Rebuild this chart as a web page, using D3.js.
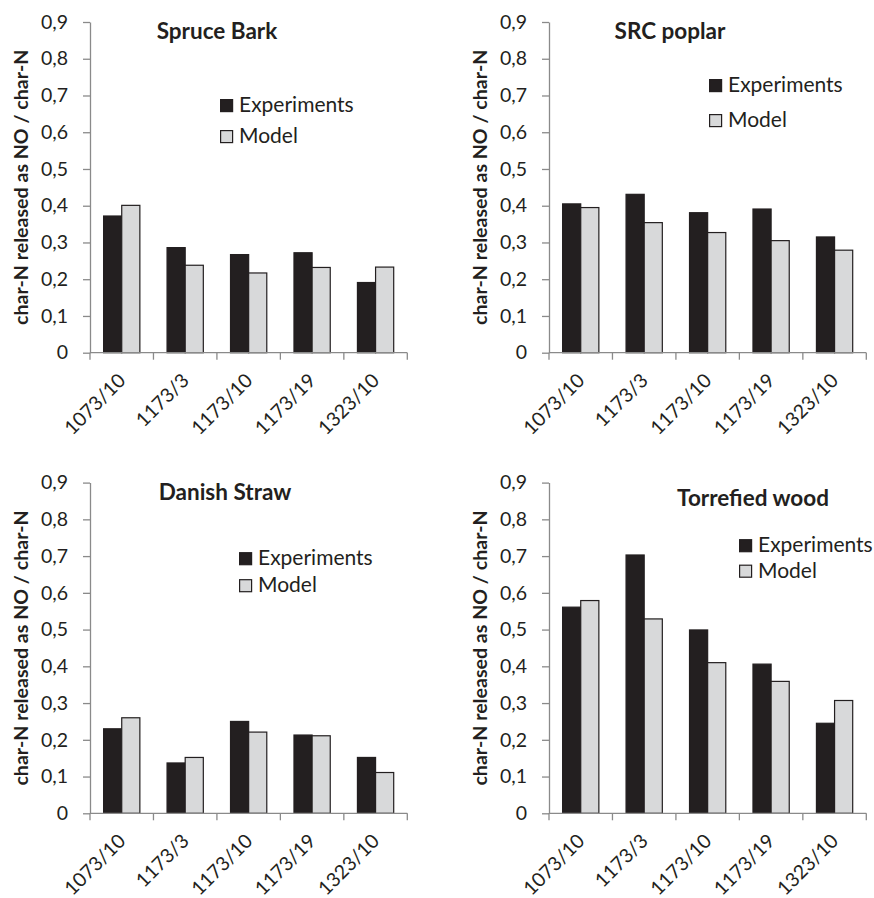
<!DOCTYPE html>
<html>
<head>
<meta charset="utf-8">
<script src="https://cdn.jsdelivr.net/npm/d3@7"></script>
<style>
  html, body { margin: 0; padding: 0; background: #fff; }
  svg { display: block; }
  text { font-family: Lato, "Open Sans", sans-serif; fill: #231f20; }
</style>
</head>
<body>
<svg id="chart" width="874" height="898"></svg>
<script>
// Temperature (K) / O2 (%) conditions
const categories = ["1073/10", "1173/3", "1173/10", "1173/19", "1323/10"];
const seriesNames = ["Experiments", "Model"];
const yTicks = [0, 0.1, 0.2, 0.3, 0.4, 0.5, 0.6, 0.7, 0.8, 0.9];

// Fraction of char-N released as NO, per fuel
const spruceExp   = [0.372, 0.286, 0.267, 0.272, 0.191];
const spruceModel = [0.401, 0.238, 0.217, 0.232, 0.233];
const poplarExp   = [0.405, 0.431, 0.381, 0.391, 0.315];
const poplarModel = [0.395, 0.354, 0.327, 0.305, 0.279];
const strawExp    = [0.230, 0.137, 0.250, 0.213, 0.152];
const strawModel  = [0.260, 0.152, 0.221, 0.211, 0.111];
const torrExp     = [0.561, 0.703, 0.499, 0.406, 0.245];
const torrModel   = [0.579, 0.529, 0.410, 0.359, 0.307];

const panels = [
  { title: "Spruce Bark",    exp: spruceExp, model: spruceModel, ox: 0,   oy: 0,
    tx: 217, ty: 39, lx: 220, ly: 99, lgap: 31 },
  { title: "SRC poplar",     exp: poplarExp, model: poplarModel, ox: 459, oy: 0,
    tx: 211, ty: 39, lx: 250, ly: 79, lgap: 35 },
  { title: "Danish Straw",   exp: strawExp,  model: strawModel,  ox: 0,   oy: 460.6,
    tx: 225, ty: 39, lx: 239, ly: 91.5, lgap: 27 },
  { title: "Torrefied wood", exp: torrExp,   model: torrModel,   ox: 459, oy: 460.6,
    tx: 294, ty: 45.5, lx: 280, ly: 78.5, lgap: 25.5 }
];

const colors = { Experiments: "#231f20", Model: "#d8d9da" };
const axisColor = "#8a8a8a";
const plot = { left: 90, right: 407.3, top: 22, bottom: 352.7 };

const svg = d3.select("#chart");

const x = d3.scaleBand().domain(categories).range([plot.left, plot.right]).padding(0);
const bars = d3.scaleBand().domain(seriesNames)
  .range([0, x.bandwidth()]).paddingInner(0).paddingOuter(0.75);
const y = d3.scaleLinear().domain([0, 0.9]).range([plot.bottom, plot.top]);
const fmt = d => d === 0 ? "0" : d3.format(".1f")(d).replace(".", ",");

panels.forEach(p => {
  const g = svg.append("g").attr("transform", `translate(${p.ox},${p.oy})`);

  // bars
  const rows = categories.map((c, i) => ({ c, Experiments: p.exp[i], Model: p.model[i] }));
  const grp = g.selectAll("g.cat").data(rows).join("g")
    .attr("transform", d => `translate(${x(d.c)},0)`);
  grp.selectAll("rect").data(d => seriesNames.map(s => ({ s, v: d[s] }))).join("rect")
    .attr("x", d => bars(d.s))
    .attr("y", d => y(d.v))
    .attr("width", bars.bandwidth())
    .attr("height", d => y(0) - y(d.v))
    .attr("fill", d => colors[d.s])
    .attr("stroke", "#231f20")
    .attr("stroke-width", 1.2);

  // y axis
  const ya = g.append("g").attr("transform", `translate(${plot.left},0)`)
    .call(d3.axisLeft(y).tickValues(yTicks).tickFormat(fmt).tickSize(7).tickSizeOuter(0).tickPadding(15));
  ya.select(".domain").attr("stroke", axisColor).attr("stroke-width", 1.3);
  ya.selectAll(".tick line").attr("stroke", axisColor).attr("stroke-width", 1.3);
  ya.selectAll(".tick text").attr("font-size", 19.5).style("font-family", "Lato, sans-serif").attr("fill", "#231f20");

  // x axis: baseline with category boundary ticks
  g.append("line")
    .attr("x1", plot.left).attr("x2", plot.right)
    .attr("y1", y(0)).attr("y2", y(0))
    .attr("stroke", axisColor).attr("stroke-width", 1.3);
  const bounds = categories.map(c => x(c)).concat([x(categories[categories.length - 1]) + x.bandwidth()]);
  g.selectAll("line.xt").data(bounds).join("line").attr("class", "xt")
    .attr("x1", d => d).attr("x2", d => d)
    .attr("y1", y(0)).attr("y2", y(0) + 7)
    .attr("stroke", axisColor).attr("stroke-width", 1.3);
  g.selectAll("text.xl").data(categories).join("text").attr("class", "xl")
    .attr("transform", c => `translate(${x(c) + x.bandwidth() / 2 + 5},${y(0) + 29}) rotate(-45)`)
    .attr("text-anchor", "end")
    .attr("font-size", 19.5)
    .text(c => c);

  // y axis title
  g.append("text")
    .attr("transform", `translate(27.5,${(plot.top + plot.bottom) / 2}) rotate(-90)`)
    .attr("text-anchor", "middle")
    .attr("font-size", 19.6)
    .attr("font-weight", "bold")
    .text("char-N released as NO / char-N");

  // panel title
  g.append("text")
    .attr("x", p.tx).attr("y", p.ty)
    .attr("text-anchor", "middle")
    .attr("font-size", 22.5)
    .attr("font-weight", "bold")
    .text(p.title);

  // legend
  const lg = g.append("g").attr("transform", `translate(${p.lx},${p.ly})`);
  seriesNames.forEach((s, i) => {
    lg.append("rect")
      .attr("x", 0.6).attr("y", i * p.lgap + 0.6)
      .attr("width", 12).attr("height", 12)
      .attr("fill", colors[s]).attr("stroke", "#231f20").attr("stroke-width", 1.2);
    lg.append("text")
      .attr("x", 19).attr("y", i * p.lgap + 13)
      .attr("font-size", 21)
      .text(s);
  });
});
</script>
</body>
</html>
